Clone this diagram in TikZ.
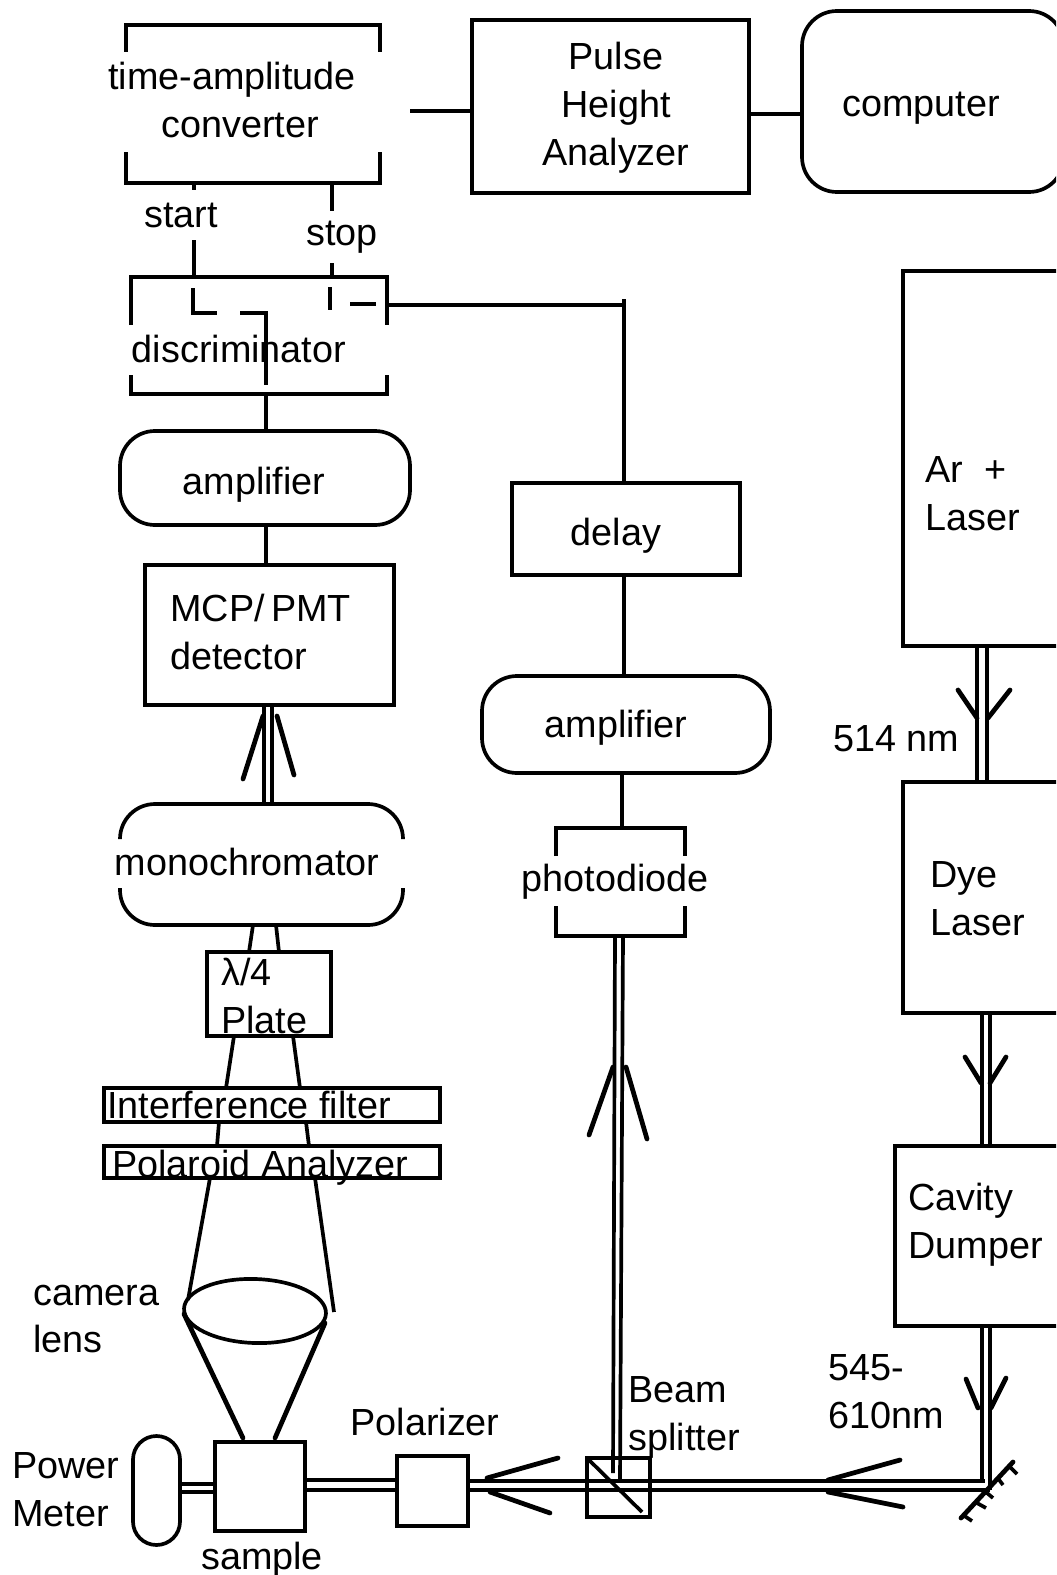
\documentclass[tikz,border=0pt]{standalone}
\usepackage{fontspec}
\setmainfont{Liberation Sans}
\usetikzlibrary{fit}

\begin{document}
\begin{tikzpicture}[x=0.02cm,y=-0.02cm,
  rule/.style={draw=black,line width=2.1pt},
  arm/.style={draw=black,line width=2.7pt,line cap=round},
  box/.style={rule,inner sep=0pt,outer sep=0pt},
  pill/.style={box,rounded corners=.7cm},
  gapbox/.style={inner sep=0pt,outer sep=0pt},
  caption/.style={font=\fontsize{21.5}{27.3}\selectfont,align=left,inner sep=0pt}]
\useasboundingbox (0,0) rectangle (1056,1575);
\clip (0,0) rectangle (1056,1575);

% Top row of electronics.
\node[gapbox,fit={(126,25)(380,183)}] (tac) {};
\draw[rule] (126,52)--(126,25)--(380,25)--(380,52);
\draw[rule] (126,152)--(126,183)--(380,183)--(380,152);
\node[caption,align=center] (tactext) at (232,100)
  {time-amplitude\\\hspace*{.32cm}converter};
\node[box,fit={(472,20)(749,193)}] (pha) {};
\node[caption,align=center] (phatext) at (616,108) {Pulse\\Height\\Analyzer};
\node[box,rounded corners=.7cm,fit={(802,11)(1064,192)}] (computer) {};
\node[caption] (computertext) at (921,108) {computer};
\coordinate (tacout) at (410,111);
\draw[rule] (tacout) -- (tacout-|pha.west);
\coordinate (phaout) at (749,114);
\draw[rule] (phaout) -- (phaout-|computer.west);

% Detection electronics, left column.
\node[gapbox,fit={(131,277)(387,394)}] (disc) {};
\draw[rule] (131,325)--(131,277)--(387,277)--(387,325);
\draw[rule] (131,375)--(131,394)--(387,394)--(387,375);
\node[caption,anchor=base] (disctext) at (239,362) {discriminator};
\node[pill,fit={(120,431)(410,525)}] (ampleft) {};
\node[caption] (amplefttext) at (254,485) {amplifier};
\node[box,fit={(145,565)(394,705)}] (mcp) {};
\node[caption,anchor=west] (mcptext) at (170,632) {MCP/ \kern-2.3pt PMT\\detector};
\coordinate (startout) at (194,183);
\coordinate (stopout) at (332,183);
\draw[rule] (startout) -- (startout|-disc.north);
\draw[rule] (stopout) -- (stopout|-disc.north);
\node[caption,anchor=base,fill=white,inner ysep=.26cm] (start) at (181,227) {start};
\node[caption,anchor=base,fill=white,inner ysep=.2cm] (stop) at (342,245) {stop};
\draw[rule] (193,288)--(193,313)--(217,313);
\draw[rule] (240,313)--(266,313)--(266,385);
\draw[rule] (330,287)--(330,310);
\draw[rule] (350,304)--(376,304);
\draw[rule] (ampleft.north-|266,0) -- (266,0|-disc.south);
\draw[rule] (ampleft.south-|266,0) -- (266,0|-mcp.north);

% Collection optics.
\node[gapbox,fit={(120,804)(403,925)}] (mono) {};
\draw[rule,rounded corners=.7cm] (120,838)--(120,804)--(403,804)--(403,838);
\draw[rule,rounded corners=.7cm] (120,888)--(120,925)--(403,925)--(403,888);
\node[caption,anchor=base] (monotext) at (247,875) {monochromator};
\foreach \x in {264,272}
  \draw[rule] (\x,0|-mcp.south) -- (\x,0|-mono.north);
\draw[arm] (243,779)--(263,716);
\draw[arm] (294,775)--(277,716);
\node[box,fit={(207,952)(331,1036)}] (quarter) {};
\node[caption,anchor=west] (quartertext) at (221,996) {λ/4\\Plate};
\node[box,fit={(104,1088)(440,1122)}] (filter) {};
\node[caption,anchor=base west] (filtertext) at (107,1118) {Interference filter};
\node[box,fit={(104,1146)(440,1178)}] (polaroid) {};
\node[caption,anchor=base west] (polaroidtext) at (112,1177) {Polaroid Analyzer};
\foreach \a/\b in {253/249,276/279}
  \draw[rule] (\a,0|-mono.south) -- (\b,0|-quarter.north);
\foreach \a/\b in {234/226,293/300}
  \draw[rule] (\a,0|-quarter.south) -- (\b,0|-filter.north);
\foreach \a/\b in {219/217,306/309}
  \draw[rule] (\a,0|-filter.south) -- (\b,0|-polaroid.north);
\draw[rule] (210,0|-polaroid.south) -- (188,1300);
\draw[rule] (315,0|-polaroid.south) -- (334,1312);
\draw[rule,rotate around={-2:(255,1311)}] (255,1311) ellipse (71 and 32);
\node[caption,anchor=west] (lenstext) at (33,1319) {camera\\lens};

% Sample line along the bottom.
\node[box,fit={(215,1442)(305,1531)}] (sample) {};
\node[caption] (sampletext) at (262,1560) {sample};
\node[box,rounded corners=.47cm,fit={(133,1436)(180,1545)}] (meter) {};
\node[caption,anchor=west] (metertext) at (12,1490) {Power\\Meter};
\node[box,fit={(397,1456)(468,1526)}] (polarizer) {};
\node[caption] (polarizertext) at (425,1422) {Polarizer};
\node[box,fit={(587,1458)(650,1517)}] (split) {};
\node[caption,anchor=west] (splittext) at (628,1417) {Beam\\splitter};
\draw[arm] (184,1314)--(243,1438);
\draw[arm] (325,1323)--(275,1438);
\foreach \y in {1484,1492}
  \draw[rule] (meter.east|-0,\y) -- (sample.west|-0,\y);
\foreach \y in {1480,1490}
  \draw[rule] (sample.east|-0,\y) -- (polarizer.west|-0,\y);
\coordinate (turnupper) at (985,1481);
\coordinate (turnlower) at (990,1490);
\draw[rule] (polarizer.east|-turnupper) -- (turnupper);
\draw[rule] (polarizer.east|-turnlower) -- (turnlower);
\draw[rule] (588,1459)--(642,1512);
\draw[arm] (558,1458)--(487,1478);
\draw[arm] (550,1513)--(490,1492);
\draw[arm] (900,1460)--(828,1480);
\draw[arm] (903,1507)--(828,1492);

% Reference arm up to the delay.
\node[gapbox,fit={(556,828)(685,936)}] (diode) {};
\draw[rule] (556,856)--(556,828)--(685,828)--(685,856);
\draw[rule] (556,906)--(556,936)--(685,936)--(685,906);
\node[caption,anchor=base] (diodetext) at (615,891) {photodiode};
\node[pill,fit={(482,676)(770,773)}] (ampright) {};
\node[caption] (amprighttext) at (616,728) {amplifier};
\node[box,fit={(512,483)(740,575)}] (delay) {};
\node[caption] (delaytext) at (616,536) {delay};
\coordinate (discout) at (387,305);
\coordinate (corner) at (624,299);
\coordinate (diodein) at (622,773);
\draw[rule] (discout) -- (discout-|corner);
\draw[rule] (corner) -- (corner|-delay.north);
\draw[rule] (corner|-delay.south) -- (corner|-ampright.north);
\draw[rule] (diodein) -- (diodein|-diode.north);
\draw[rule] (615,0|-diode.south) -- (613,1473);
\draw[rule] (623,0|-diode.south) -- (620,1481);
\draw[arm] (589,1135)--(613,1067);
\draw[arm] (647,1139)--(626,1067);

% Laser column.
\node[box,fit={(903,271)(1075,646)}] (ar) {};
\node[caption,anchor=west] (artext) at (925,494) {Ar~~+\\Laser};
\node[box,fit={(903,782)(1075,1013)}] (dye) {};
\node[caption,anchor=west] (dyetext) at (930,899) {Dye\\Laser};
\node[box,fit={(895,1146)(1075,1326)}] (cavity) {};
\node[caption,anchor=west] (cavitytext) at (908,1225) {Cavity\\Dumper};
\node[caption,anchor=west] (greenlabel) at (833,739) {514 nm};
\node[caption,anchor=west] (tunelabel) at (828,1392) {545-\\610nm};
\foreach \x in {977,987}
  \draw[rule] (\x,0|-ar.south) -- (\x,0|-dye.north);
\foreach \x in {982,990}
  \draw[rule] (\x,0|-dye.south) -- (\x,0|-cavity.north);
\draw[rule] (982,0|-cavity.south) -- (turnupper-|982,0);
\draw[rule] (990,0|-cavity.south) -- (turnlower-|990,0);
\draw[arm] (958,690)--(977,718);
\draw[arm] (1010,690)--(988,718);
\draw[arm] (965,1057)--(981,1083);
\draw[arm] (1006,1057)--(990,1083);
\draw[arm] (966,1379)--(978,1408);
\draw[arm] (1006,1378)--(991,1408);

% Mirror at the corner.
\draw[arm] (961,1518)--(1013,1462);
\foreach \a/\b/\c/\d in {963/1515/972/1521,977/1503/986/1508,987/1493/993/1498,997/1477/1003/1485,1010/1467/1017/1474}
  \draw[rule] (\a,\b)--(\c,\d);
\end{tikzpicture}
\end{document}
